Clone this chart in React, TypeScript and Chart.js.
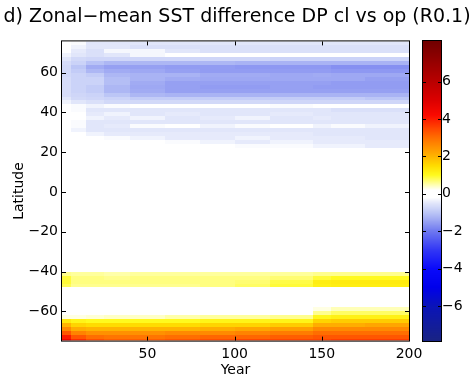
import React, { useEffect, useRef } from "react";
import { Chart, registerables } from "chart.js";

Chart.register(...registerables);

const FONT_FAMILY = '"DejaVu Sans", "Liberation Sans", Arial, sans-serif';
const TITLE = "d) Zonal\u2212mean SST difference DP cl vs op (R0.1)";
const X_TITLE = "Year";
const Y_TITLE = "Latitude";

const yearTicks = [50, 100, 150, 200];
const latTicks = [-60, -40, -20, 0, 20, 40, 60];
const colorTicks = [-6, -4, -2, 0, 2, 4, 6];

// Year bins (columns)
const yearEdges = [1, 6, 15, 25, 40, 60, 80, 100, 120, 145, 155, 175, 200];

// Northern band (cooling)
const northLatEdges = [76, 74, 72, 70, 68, 66, 64, 62, 60, 58, 56, 54, 52, 50, 48, 46, 44, 42, 40, 38, 36, 34, 32, 30, 28, 26, 24, 22];
const northValues = [
  [0, -0.25, -0.5, -0.5, -0.5, -0.5, -0.5, -0.5, -0.5, -0.5, -0.5, -0.5],
  [0, -0.35, -0.5, -0.5, -0.6, -0.6, -0.6, -0.6, -0.6, -0.6, -0.6, -0.6],
  [0, -0.45, -0.6, -0.3, -0.3, -0.5, -0.6, -0.6, -0.6, -0.6, -0.6, -0.6],
  [-0.35, -0.5, -0.6, -0.5, -0.3, 0, 0, 0, 0, 0, 0, 0],
  [-0.5, -0.7, -0.75, -0.75, -0.75, -0.75, -0.75, -0.75, -0.8, -0.8, -0.8, -0.8],
  [-0.65, -0.8, -1.05, -1.2, -1.2, -1.2, -1.2, -1.25, -1.25, -1.25, -1.25, -1.25],
  [-0.7, -1.0, -1.35, -1.5, -1.5, -1.55, -1.55, -1.6, -1.6, -1.6, -1.7, -1.7],
  [-0.7, -0.9, -1.2, -1.35, -1.4, -1.5, -1.55, -1.55, -1.55, -1.55, -1.6, -1.6],
  [-0.7, -0.8, -0.9, -1.2, -1.25, -1.25, -1.35, -1.35, -1.4, -1.35, -1.4, -1.4],
  [-0.65, -0.8, -0.8, -1.1, -1.25, -1.35, -1.4, -1.4, -1.4, -1.4, -1.4, -1.5],
  [-0.65, -0.8, -0.8, -1.1, -1.35, -1.5, -1.5, -1.5, -1.5, -1.5, -1.55, -1.55],
  [-0.65, -0.8, -0.9, -1.2, -1.4, -1.5, -1.55, -1.55, -1.5, -1.55, -1.55, -1.55],
  [-0.65, -0.8, -0.9, -1.2, -1.35, -1.5, -1.5, -1.5, -1.5, -1.5, -1.5, -1.5],
  [-0.65, -0.75, -0.8, -1.0, -1.2, -1.25, -1.25, -1.25, -1.25, -1.25, -1.25, -1.25],
  [-0.5, -0.7, -0.75, -0.8, -0.9, -0.9, -0.9, -0.9, -0.9, -0.9, -0.9, -1.0],
  [-0.35, -0.5, -0.6, -0.7, -0.7, -0.7, -0.7, -0.7, -0.75, -0.75, -0.75, -0.75],
  [0, -0.25, -0.35, -0.25, 0, 0, -0.2, 0, -0.25, 0, -0.2, 0],
  [0, -0.25, -0.5, -0.5, -0.5, -0.5, -0.5, -0.5, -0.5, -0.5, -0.6, -0.6],
  [0, -0.2, -0.45, -0.35, -0.5, -0.45, -0.5, -0.5, -0.45, -0.5, -0.5, -0.5],
  [0, 0, -0.35, -0.45, -0.35, -0.5, -0.45, -0.35, -0.5, -0.45, -0.5, -0.5],
  [0, -0.25, -0.5, -0.5, -0.5, -0.5, -0.5, -0.5, -0.5, -0.5, -0.5, -0.5],
  [0, -0.25, -0.5, -0.45, -0.25, 0, -0.35, -0.25, 0, -0.35, -0.25, -0.35],
  [0, -0.35, -0.5, -0.5, -0.5, -0.5, -0.5, -0.5, -0.5, -0.5, -0.5, -0.5],
  [0, 0, -0.35, -0.45, -0.45, -0.45, -0.45, -0.45, -0.45, -0.5, -0.5, -0.5],
  [0, 0, 0, -0.25, -0.35, -0.45, -0.45, -0.35, -0.45, -0.45, -0.45, -0.5],
  [0, 0, 0, 0, 0, -0.25, -0.35, -0.45, -0.35, -0.45, -0.45, -0.45],
  [0, 0, 0, 0, 0, 0, 0, -0.25, -0.25, -0.35, -0.35, -0.45],
];

// Southern mid-latitude band (warming)
const midLatEdges = [-40, -42, -44, -46, -48];
const midValues = [
  [0.6, 0.55, 0.55, 0.5, 0.55, 0.55, 0.55, 0.55, 0.55, 0.6, 0.6, 0.6],
  [0.9, 0.65, 0.65, 0.6, 0.65, 0.65, 0.65, 0.65, 0.7, 0.9, 1.0, 1.0],
  [0.9, 0.65, 0.65, 0.65, 0.65, 0.65, 0.65, 0.7, 0.85, 1.2, 1.25, 1.25],
  [0.8, 0.6, 0.6, 0.6, 0.6, 0.6, 0.65, 0.75, 0.9, 1.15, 1.2, 1.2],
];

// Southern polar band (warming)
const southLatEdges = [-58, -60, -62, -64, -66, -68, -70, -72, -74, -76];
const southValues = [
  [0, 0, 0, 0, 0, 0, 0, 0, 0, 0.3, 0.45, 0.45],
  [0, 0, 0, 0, 0, 0, 0, 0, 0, 0.6, 0.75, 0.75],
  [0.3, 0.3, 0.35, 0.4, 0.4, 0.5, 0.55, 0.55, 0.6, 1.05, 1.15, 1.15],
  [1.3, 1.1, 1.0, 1.0, 1.0, 1.0, 1.1, 1.1, 1.1, 1.6, 1.7, 1.7],
  [2.0, 1.6, 1.5, 1.5, 1.5, 1.5, 1.6, 1.6, 1.7, 2.1, 2.1, 2.2],
  [2.6, 2.1, 2.0, 2.0, 2.0, 2.0, 2.1, 2.2, 2.3, 2.6, 2.6, 2.6],
  [3.3, 2.7, 2.5, 2.5, 2.5, 2.6, 2.6, 2.7, 2.8, 3.0, 3.0, 3.0],
  [4.0, 3.3, 3.0, 2.9, 2.9, 3.0, 3.1, 3.1, 3.2, 3.3, 3.3, 3.3],
  [4.5, 3.8, 3.4, 3.2, 3.2, 3.3, 3.4, 3.5, 3.5, 3.5, 3.6, 3.6],
];

const cmapStops: [number, number[]][] = [
  [-7.9, [25, 35, 130]],
  [-6, [10, 20, 185]],
  [-5, [0, 0, 235]],
  [-4, [10, 10, 250]],
  [-3, [50, 55, 245]],
  [-2, [110, 120, 240]],
  [-1.5, [150, 160, 242]],
  [-1, [188, 198, 246]],
  [-0.5, [225, 230, 250]],
  [-0.2, [255, 255, 255]],
  [0.2, [255, 255, 255]],
  [0.5, [255, 255, 170]],
  [1.0, [255, 250, 30]],
  [1.5, [255, 220, 0]],
  [2, [255, 180, 0]],
  [2.5, [255, 145, 0]],
  [3, [255, 110, 0]],
  [3.5, [255, 70, 0]],
  [4.2, [250, 10, 0]],
  [5, [220, 0, 0]],
  [6, [185, 0, 0]],
  [8.1, [115, 0, 0]],
];

function cmap(v: number): string {
  if (v <= cmapStops[0][0]) {
    const c = cmapStops[0][1];
    return `rgb(${c[0]},${c[1]},${c[2]})`;
  }
  for (let i = 1; i < cmapStops.length; i++) {
    const [v1, c1] = cmapStops[i];
    const [v0, c0] = cmapStops[i - 1];
    if (v <= v1) {
      const t = (v - v0) / (v1 - v0);
      const r = Math.round(c0[0] + (c1[0] - c0[0]) * t);
      const g = Math.round(c0[1] + (c1[1] - c0[1]) * t);
      const b = Math.round(c0[2] + (c1[2] - c0[2]) * t);
      return `rgb(${r},${g},${b})`;
    }
  }
  const c = cmapStops[cmapStops.length - 1][1];
  return `rgb(${c[0]},${c[1]},${c[2]})`;
}

const fmt = (v: number) => (v < 0 ? "\u2212" + Math.abs(v) : String(v));

const heatPlugin = {
  id: "heatmap",
  beforeDatasetsDraw(chart: any) {
    const { ctx, chartArea: a, scales } = chart;
    const xs = scales.x;
    const ys = scales.y;
    ctx.save();
    ctx.beginPath();
    ctx.rect(a.left, a.top, a.right - a.left, a.bottom - a.top);
    ctx.clip();
    const drawBlock = (latEdges: number[], values: number[][]) => {
      for (let r = 0; r < values.length; r++) {
        const y0 = Math.round(ys.getPixelForValue(latEdges[r]));
        const y1 = Math.round(ys.getPixelForValue(latEdges[r + 1]));
        for (let c = 0; c < values[r].length; c++) {
          const v = values[r][c];
          if (Math.abs(v) <= 0.2) continue;
          const x0 = Math.round(xs.getPixelForValue(yearEdges[c]));
          const x1 = Math.round(xs.getPixelForValue(yearEdges[c + 1]));
          ctx.fillStyle = cmap(v);
          ctx.fillRect(x0, y0, x1 - x0, y1 - y0);
        }
      }
    };
    drawBlock(northLatEdges, northValues);
    drawBlock(midLatEdges, midValues);
    drawBlock(southLatEdges, southValues);
    ctx.restore();
  },
  afterDraw(chart: any) {
    const { ctx, chartArea: a, scales } = chart;
    const xs = scales.x;
    const ys = scales.y;
    const cb = scales.cb;
    ctx.save();
    ctx.strokeStyle = "#000";
    ctx.lineWidth = 1;
    ctx.strokeRect(a.left - 0.5, a.top - 0.5, a.right - a.left + 1, a.bottom - a.top + 1);
    const tl = 4;
    ctx.beginPath();
    for (const t of yearTicks) {
      const px = Math.round(xs.getPixelForValue(t)) + 0.5;
      ctx.moveTo(px, a.bottom);
      ctx.lineTo(px, a.bottom - tl);
      ctx.moveTo(px, a.top);
      ctx.lineTo(px, a.top + tl);
    }
    for (const t of latTicks) {
      const py = Math.round(ys.getPixelForValue(t)) + 0.5;
      ctx.moveTo(a.left, py);
      ctx.lineTo(a.left + tl, py);
      ctx.moveTo(a.right, py);
      ctx.lineTo(a.right - tl, py);
    }
    ctx.stroke();

    const bx0 = cb.left + 14;
    const bx1 = cb.left + 32;
    const top = Math.round(cb.getPixelForValue(cb.max));
    const bottom = Math.round(cb.getPixelForValue(cb.min));
    for (let py = top; py < bottom; py++) {
      const v = cb.getValueForPixel(py + 0.5);
      ctx.fillStyle = cmap(v);
      ctx.fillRect(bx0, py, bx1 - bx0, 1);
    }
    ctx.strokeStyle = "#000";
    ctx.strokeRect(bx0 - 0.5, top - 0.5, bx1 - bx0 + 1, bottom - top + 1);
    ctx.beginPath();
    for (const t of colorTicks) {
      const py = Math.round(cb.getPixelForValue(t)) + 0.5;
      ctx.moveTo(bx0, py);
      ctx.lineTo(bx0 + 3, py);
      ctx.moveTo(bx1, py);
      ctx.lineTo(bx1 - 3, py);
    }
    ctx.stroke();
    ctx.restore();
  },
};

export default function App() {
  const ref = useRef<HTMLCanvasElement | null>(null);
  useEffect(() => {
    const canvas = ref.current;
    if (!canvas) return;
    const tickFont = { family: FONT_FAMILY, size: 14 };
    const chart = new Chart(canvas, {
      type: "scatter",
      data: { datasets: [{ data: [] }] },
      plugins: [heatPlugin],
      options: {
        responsive: false,
        animation: false,
        devicePixelRatio: 1,
        layout: { padding: 0 },
        plugins: {
          legend: { display: false },
          tooltip: { enabled: false },
          title: {
            display: true,
            text: TITLE,
            color: "#000",
            font: { family: FONT_FAMILY, size: 19, weight: "normal" },
            padding: { top: 0, bottom: 13.2 },
          },
        },
        scales: {
          x: {
            type: "linear",
            position: "bottom",
            min: 1,
            max: 200,
            afterBuildTicks: (s: any) => {
              s.ticks = yearTicks.map((value) => ({ value }));
            },
            afterFit: (s: any) => {
              s.height = 40;
            },
            grid: { display: false, drawTicks: false },
            border: { display: false },
            ticks: {
              color: "#000",
              font: tickFont,
              padding: 5,
              autoSkip: false,
              maxRotation: 0,
              callback: (v: any) => fmt(Number(v)),
            },
            title: {
              display: true,
              text: X_TITLE,
              color: "#000",
              font: tickFont,
              padding: { top: 0, bottom: 1.5 },
            },
          },
          y: {
            type: "linear",
            position: "left",
            min: -74.7,
            max: 75.7,
            afterBuildTicks: (s: any) => {
              s.ticks = latTicks.map((value) => ({ value }));
            },
            afterFit: (s: any) => {
              s.width = 62;
            },
            grid: { display: false, drawTicks: false },
            border: { display: false },
            ticks: {
              color: "#000",
              font: tickFont,
              padding: 4,
              autoSkip: false,
              callback: (v: any) => fmt(Number(v)),
            },
            title: {
              display: true,
              text: Y_TITLE,
              color: "#000",
              font: tickFont,
              padding: { top: 11, bottom: 0 },
            },
          },
          cb: {
            type: "linear",
            position: "right",
            min: -7.85,
            max: 8.15,
            afterBuildTicks: (s: any) => {
              s.ticks = colorTicks.map((value) => ({ value }));
            },
            afterFit: (s: any) => {
              s.width = 65;
            },
            grid: { display: false, drawTicks: false },
            border: { display: false },
            ticks: {
              color: "#000",
              font: tickFont,
              padding: 33,
              autoSkip: false,
              callback: (v: any) => fmt(Number(v)),
            },
          },
        },
      } as any,
    });
    return () => chart.destroy();
  }, []);
  return (
    <div style={{ position: "absolute", left: 0, top: 0, width: 474, height: 382 }}>
      <canvas ref={ref} width={474} height={382} style={{ display: "block" }} />
    </div>
  );
}
